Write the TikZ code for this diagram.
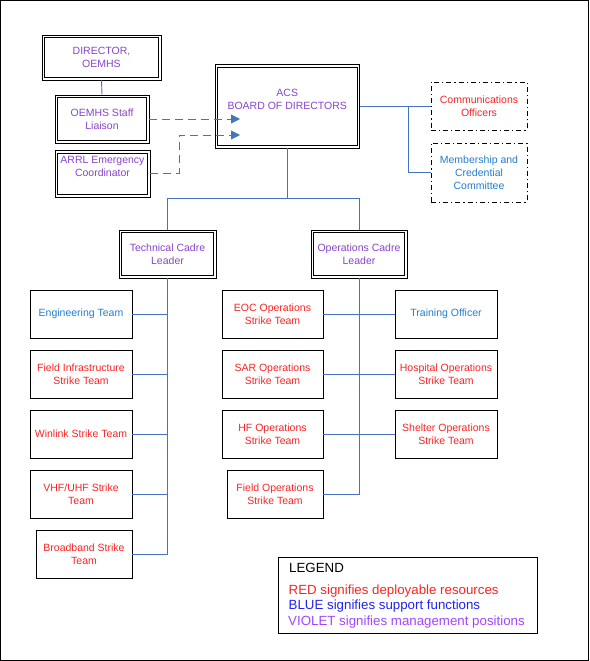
\documentclass[tikz,border=0pt]{standalone}
\usepackage{fontspec}
\setmainfont{Liberation Sans}
\usetikzlibrary{arrows.meta}
\definecolor{vio}{RGB}{136,68,200}
\definecolor{redt}{RGB}{250,35,35}
\definecolor{bluet}{RGB}{35,125,205}
\definecolor{legblue}{RGB}{35,35,240}
\definecolor{legvio}{RGB}{160,70,255}
\definecolor{conn}{RGB}{68,114,196}
\tikzset{
  box/.style={draw=black, line width=0.8pt, align=center, inner sep=2pt,
    font=\fontsize{10.5}{13}\selectfont},
  dbl/.style={box, text=vio},
  innerline/.style={draw=black, line width=0.8pt},
  dashdotbox/.style={box, dash pattern=on 5pt off 3pt on 1.2pt off 3pt},
  single/.style={box, minimum height=48pt},
  link/.style={draw=conn, line width=0.9pt},
  dlink/.style={link, dash pattern=on 8pt off 5pt, -{Triangle[length=9pt,width=9pt]}},
  legtext/.style={anchor=base west, inner sep=0pt, font=\fontsize{13.3}{16}\selectfont}
}
\begin{document}
\begin{tikzpicture}[x=1pt,y=-1pt]
\useasboundingbox (0,0) rectangle (589,661);
\draw[line width=0.8pt] (0.5,0.5) rectangle (588.5,660.5);

% top left
\node[dbl, minimum width=119pt, minimum height=45pt] (director) at (101.5,57.5) {DIRECTOR,\\OEMHS};
\node[dbl, minimum width=94pt, minimum height=48pt] (liaison) at (102,119) {OEMHS Staff\\Liaison};
\node[dbl, minimum width=95pt, minimum height=46.5pt] (arrl) at (102.5,173.75) {ARRL Emergency\\Coordinator\\[2pt]~};

% board
\node[dbl, minimum width=144.5pt, minimum height=83.5pt] (board) at (287.25,106.25) {ACS\\BOARD OF DIRECTORS\\[1pt]~};

% right top
\node[dashdotbox, minimum width=96pt, minimum height=48pt, text=redt] (comms) at (479,106) {Communications\\Officers};
\node[dashdotbox, minimum width=96pt, minimum height=59pt, text=bluet] (member) at (479,172.5) {Membership and\\Credential\\Committee};

% cadre leaders
\node[dbl, minimum width=97pt, minimum height=48pt] (tech) at (167.5,254) {Technical Cadre\\Leader};
\node[dbl, minimum width=96pt, minimum height=48pt] (ops) at (359,254) {Operations Cadre\\Leader};

% inner lines of the double-bordered boxes
\foreach \n in {director,liaison,arrl,board,tech,ops}
  \draw[innerline] ([shift={(3pt,3pt)}]\n.south west) rectangle ([shift={(-3pt,-3pt)}]\n.north east);

% left column
\node[single, minimum width=102pt, text=bluet] (eng) at (81,314) {Engineering Team};
\node[single, minimum width=102pt, text=redt] (finfra) at (81,374) {Field Infrastructure\\Strike Team};
\node[single, minimum width=102pt, text=redt] (winlink) at (81,434) {Winlink Strike Team};
\node[single, minimum width=102pt, text=redt] (vhf) at (81,494) {VHF/UHF Strike\\Team};
\node[single, minimum width=96pt, text=redt] (broad) at (84,554) {Broadband Strike\\Team};

% middle column
\node[single, minimum width=101pt, text=redt] (eoc) at (272.5,314) {EOC Operations\\Strike Team};
\node[single, minimum width=101pt, text=redt] (sar) at (272.5,374) {SAR Operations\\Strike Team};
\node[single, minimum width=101pt, text=redt] (hf) at (272.5,434) {HF Operations\\Strike Team};
\node[single, minimum width=96pt, text=redt] (fops) at (275,494) {Field Operations\\Strike Team};

% right column
\node[single, minimum width=102pt, text=bluet] (train) at (446,314) {Training Officer};
\node[single, minimum width=102pt, text=redt] (hosp) at (446,374) {Hospital Operations\\Strike Team};
\node[single, minimum width=102pt, text=redt] (shelter) at (446,434) {Shelter Operations\\Strike Team};

% connectors
\draw[link] (director.south) -- (liaison.north);

\coordinate (j) at (287.25,198);
\draw[link] (board.south) -- (j);
\draw[link] (tech.north) -- (tech.north |- j) -- (ops.north |- j) -- (ops.north);

\coordinate (br) at (408,106);
\draw[link] (board.east |- comms.west) -- (comms.west);
\draw[link] (br) |- (member.west);

\draw[link] (tech.south) |- (broad.east);
\draw[link] (eng.east) -- (tech.south |- eng.east);
\draw[link] (finfra.east) -- (tech.south |- finfra.east);
\draw[link] (winlink.east) -- (tech.south |- winlink.east);
\draw[link] (vhf.east) -- (tech.south |- vhf.east);

\draw[link] (ops.south) |- (fops.east);
\draw[link] (eoc.east) -- (train.west);
\draw[link] (sar.east) -- (hosp.west);
\draw[link] (hf.east) -- (shelter.west);

% dashed arrows
\coordinate (a1) at (240,119);
\coordinate (a2) at (240,135);
\coordinate (k) at (179,173.5);
\draw[dlink] (liaison.east) -- (a1);
\draw[dlink] (arrl.east |- k) -- (k) |- (a2);

% legend
\node[draw, line width=0.8pt, minimum width=259pt, minimum height=76pt, anchor=north west, inner sep=0pt] (legend) at (278,557) {};
\node[legtext] (lg0) at (289,572.8) {LEGEND};
\node[legtext, text=redt] (lg1) at (288.5,594) {RED signifies deployable resources};
\node[legtext, text=legblue] (lg2) at (288.5,609.8) {BLUE signifies support functions};
\node[legtext, text=legvio] (lg3) at (288,625.8) {VIOLET signifies management positions};
\end{tikzpicture}
\end{document}
